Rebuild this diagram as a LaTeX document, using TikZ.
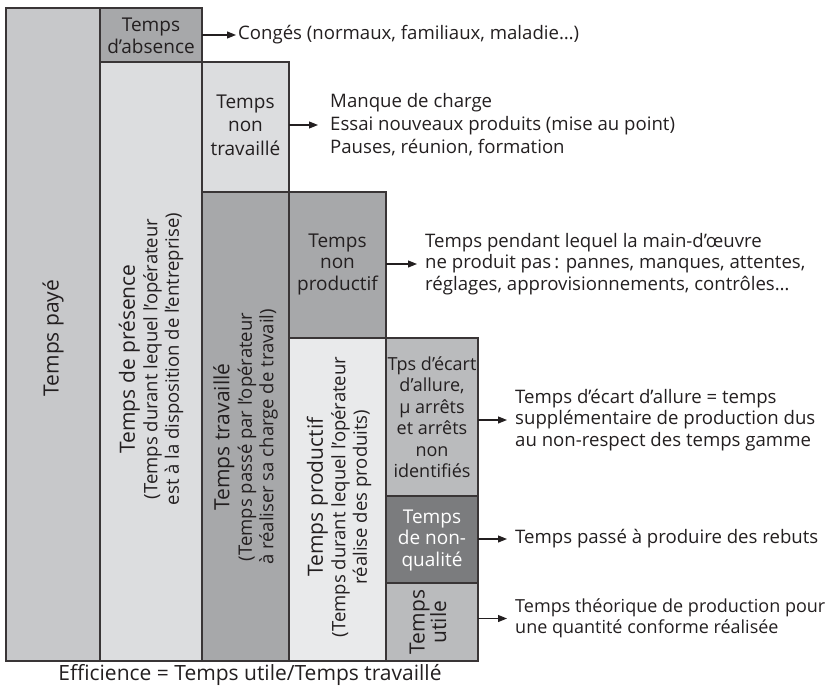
\documentclass[tikz,border=0pt]{standalone}
\usepackage{fontspec}
\setmainfont{Open Sans}
\usetikzlibrary{arrows.meta,positioning,calc}

\definecolor{gpaye}{HTML}{C7C8CA}
\definecolor{gfonce}{HTML}{A7A8AA}
\definecolor{gclair}{HTML}{DCDDDF}
\definecolor{gpale}{HTML}{E9EAEB}
\definecolor{gmoyen}{HTML}{BABBBD}
\definecolor{gnoir}{HTML}{7B7C7E}
\definecolor{encre}{HTML}{231F20}

\newcommand{\titre}{\fontsize{21}{24}\selectfont}
\newcommand{\sous}{\fontsize{18.5}{22}\selectfont}

\begin{document}
\begin{tikzpicture}[x=1pt, y=-1pt,
    bloc/.style={draw=encre!90, line width=1.2pt, inner sep=0pt, outer sep=0pt, anchor=north west},
    txt/.style={align=center, text=encre, inner sep=0pt, font=\fontsize{19}{21.5}\selectfont},
    vtxt/.style={txt, rotate=90},
    legende/.style={align=left, anchor=west, inner sep=0pt, text=encre, font=\fontsize{18.6}{21.5}\selectfont},
    fleche/.style={-{Triangle[length=9pt,width=7pt]}, line width=1.1pt, draw=encre}]
    \useasboundingbox (0,0) rectangle (840,687);

    % Columns of time
    \node[bloc, fill=gpaye, minimum width=94pt, minimum height=653pt] (paye) at (6,8) {};
    \node[bloc, fill=gfonce, minimum width=102pt, minimum height=54pt] (absence) at (100,8) {};
    \node[bloc, fill=gclair, minimum width=102pt, minimum height=599pt] (presence) at (100,62) {};
    \node[bloc, fill=gclair, minimum width=87pt, minimum height=130pt] (nontrav) at (202,62) {};
    \node[bloc, fill=gfonce, minimum width=87pt, minimum height=469pt] (trav) at (202,192) {};
    \node[bloc, fill=gfonce, minimum width=97pt, minimum height=146pt] (nonprod) at (289,192) {};
    \node[bloc, fill=gpale, minimum width=97pt, minimum height=323pt] (prod) at (289,338) {};
    \node[bloc, fill=gmoyen, minimum width=92pt, minimum height=158pt] (ecart) at (386,338) {};
    \node[bloc, fill=gnoir, minimum width=92pt, minimum height=87pt] (nonqual) at (386,496) {};
    \node[bloc, fill=gmoyen, minimum width=92pt, minimum height=78pt] (utile) at (386,583) {};

    % Texts in the boxes
    \node[vtxt] (tpaye) at (53,338) {\titre Temps payé};
    \node[txt] (tabsence) at (151,36) {Temps\\d’absence};
    \node[vtxt] (tpresence) at (151,359) {\titre Temps de présence\\[1pt]
        {\sous (Temps durant lequel l’opérateur}\\{\sous est à la disposition de l’entreprise)}};
    \node[txt, font=\fontsize{19}{23.5}\selectfont] (tnontrav) at (245.5,125) {Temps\\non\\travaillé};
    \node[vtxt] (ttrav) at (245.5,437) {\titre Temps travaillé\\[1pt]
        {\sous (Temps passé par l’opérateur}\\{\sous à réaliser sa charge de travail)}};
    \node[txt] (tnonprod) at (337.5,264) {Temps\\non\\productif};
    \node[vtxt] (tprod) at (339,497) {\titre Temps productif\\[1pt]
        {\sous (Temps durant lequel l’opérateur}\\{\sous réalise des produits)}};
    \node[txt, font=\fontsize{18}{21.5}\selectfont] (tecart) at (432,417) {Tps d’écart\\d’allure,\\μ arrêts\\et arrêts\\non\\identifiés};
    \node[txt, text=white] (tnonqual) at (432,540) {Temps\\de non-\\qualité};
    \node[vtxt] (tutile) at (428,622) {\titre Temps\\\titre utile};

    % Explanations on the right
    \node[legende] (conges) at (238,35) {Congés (normaux, familiaux, maladie…)};
    \node[legende, font=\fontsize{18.6}{23}\selectfont] (manque) at (330,125) {Manque de charge\\Essai nouveaux produits (mise au point)\\Pauses, réunion, formation};
    \node[legende] (pendant) at (425,264) {Temps pendant lequel la main-d’œuvre\\ne produit pas\,: pannes, manques, attentes,\\réglages, approvisionnements, contrôles…};
    \node[legende] (allure) at (515,420) {Temps d’écart d’allure = temps\\supplémentaire de production dus\\au non-respect des temps gamme};
    \node[legende] (rebuts) at (515,539) {Temps passé à produire des rebuts};
    \node[legende, font=\fontsize{18}{21.5}\selectfont] (theorique) at (515,618.5) {Temps théorique de production pour\\une quantité conforme réalisée};

    % Arrows
    \draw[fleche, shorten >=2pt] (conges.west -| absence.east) -- (conges.west);
    \draw[fleche, shorten >=12pt] (manque.west -| nontrav.east) -- (manque.west);
    \draw[fleche, shorten >=8pt] (pendant.west -| nonprod.east) -- (pendant.west);
    \draw[fleche, shorten >=8pt] (allure.west -| ecart.east) -- (allure.west);
    \draw[fleche, shorten >=8pt] (rebuts.west -| nonqual.east) -- (rebuts.west);
    \draw[fleche, shorten >=8pt] (theorique.west -| utile.east) -- (theorique.west);

    % Formula under the columns
    \node[txt, font=\fontsize{21}{24}\selectfont] (efficience) at (250,675) {Efficience = Temps utile/Temps travaillé};
\end{tikzpicture}
\end{document}
